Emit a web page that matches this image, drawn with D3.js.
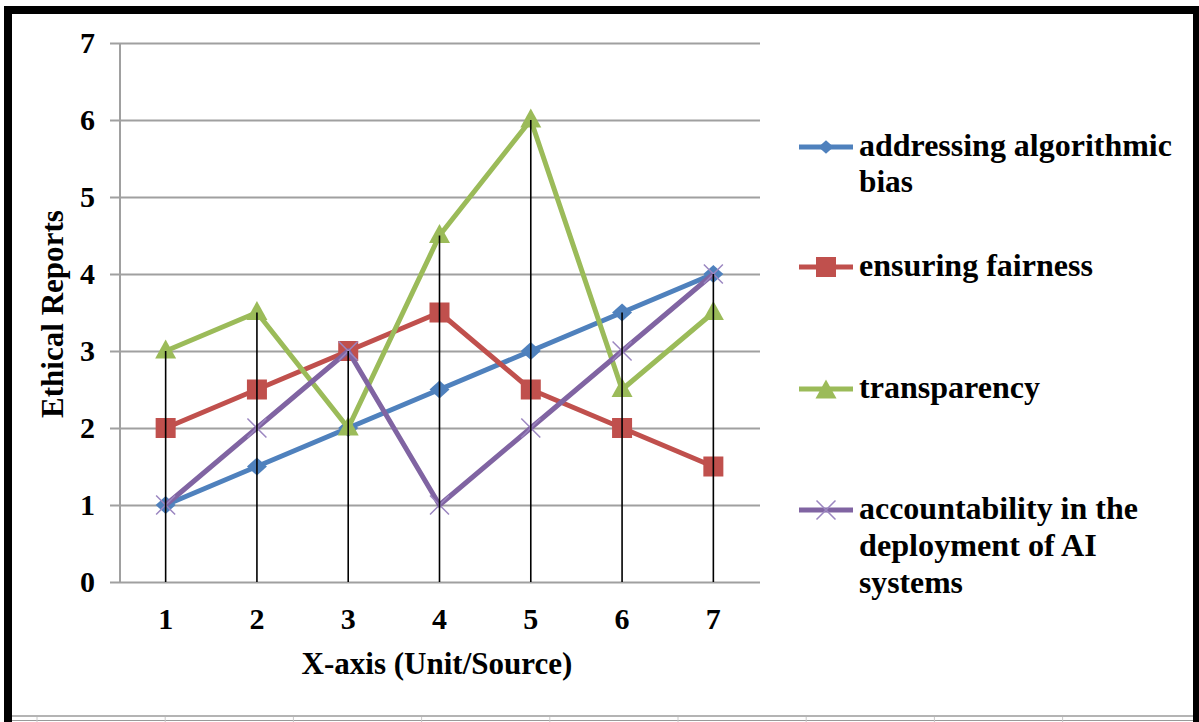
<!DOCTYPE html>
<html><head><meta charset="utf-8">
<script src="https://cdn.jsdelivr.net/npm/d3@7"></script>
<style>
html,body{margin:0;padding:0;background:#fff;}
svg{display:block;}
</style></head>
<body>
<svg id="c" width="1199" height="722"></svg>
<script>
const categories = [1, 2, 3, 4, 5, 6, 7];
const yTicks = [0, 1, 2, 3, 4, 5, 6, 7];
const seriesNames = ["addressing algorithmic bias", "ensuring fairness", "transparency", "accountability in the deployment of AI systems"];
const biasValues = [1, 1.5, 2, 2.5, 3, 3.5, 4];
const fairnessValues = [2, 2.5, 3, 3.5, 2.5, 2, 1.5];
const transparencyValues = [3, 3.5, 2, 4.5, 6, 2.5, 3.5];
const accountabilityValues = [1, 2, 3, 1, 2, 3, 4];
const legendLines = [["addressing algorithmic", "bias"], ["ensuring fairness"], ["transparency"], ["accountability in the", "deployment of AI", "systems"]];
const xTitle = "X-axis (Unit/Source)";
const yTitle = "Ethical Reports";

const colors = ["#4F81BD", "#C0504D", "#9BBB59", "#8064A2"];
const markers = ["diamond", "square", "triangle", "cross"];
const seriesValues = [biasValues, fairnessValues, transparencyValues, accountabilityValues];
const series = seriesNames.map((n, i) => ({name: n, values: seriesValues[i], color: colors[i], marker: markers[i], lines: legendLines[i]}));

const FONT = "'Liberation Serif', 'Times New Roman', Times, serif";
const svg = d3.select("#c");
const L = 120, R = 759, T = 43, B = 582;
const x = d3.scaleBand().domain(categories).range([L, R]);
const xc = c => x(c) + x.bandwidth() / 2;
const y = d3.scaleLinear().domain([0, 7]).range([B, T]);

// put text at (px,py) with anchor, font size fs; if w given, stretch horizontally to width w
function fitText(g, str, px, py, fs, w, anchor, rot) {
  const outer = g.append("g").attr("transform", `translate(${px},${py})` + (rot ? ` rotate(${rot})` : ""));
  const t = outer.append("text").attr("font-family", FONT).attr("font-weight", "bold")
    .attr("font-size", fs).attr("fill", "#000").text(str);
  const natural = t.node().getComputedTextLength();
  const ww = w || natural;
  const sx = ww / natural;
  let ox = 0;
  if (anchor === "middle") ox = -ww / 2; else if (anchor === "end") ox = -ww;
  t.attr("transform", `translate(${ox},0) scale(${sx},1)`);
  return t;
}

// page artifacts at bottom
svg.append("line").attr("x1", 12).attr("x2", 1193).attr("y1", 716).attr("y2", 716).attr("stroke", "#b4b4b4").attr("stroke-width", 2);
svg.append("line").attr("x1", 12).attr("x2", 1193).attr("y1", 720.5).attr("y2", 720.5).attr("stroke", "#9a9a9a").attr("stroke-width", 1);
d3.range(9).forEach(k => {
  const px = 37 + 128.2 * k;
  svg.append("line").attr("x1", px).attr("x2", px).attr("y1", 717).attr("y2", 722).attr("stroke", "#c8c8c8").attr("stroke-width", 1);
});

// frame
svg.append("rect").attr("x", 4).attr("y", 6).attr("width", 8).attr("height", 716).attr("fill", "#000");
svg.append("rect").attr("x", 4).attr("y", 6).attr("width", 1195).attr("height", 8).attr("fill", "#000");
svg.append("rect").attr("x", 1193).attr("y", 6).attr("width", 6).attr("height", 716).attr("fill", "#000");

// gridlines
const grid = svg.append("g").attr("transform", `translate(${R + 1},0)`)
  .call(d3.axisLeft(y).tickValues(yTicks).tickSize(R + 1 - 110).tickFormat(""));
grid.select(".domain").remove();
grid.selectAll("line").attr("stroke", "#a0a0a0").attr("stroke-width", 2);

// y axis line
svg.append("line").attr("x1", L).attr("x2", L).attr("y1", T).attr("y2", B).attr("stroke", "#a0a0a0").attr("stroke-width", 2);

// y tick labels (positions from the scale)
const yl = svg.append("g");
yTicks.forEach(v => fitText(yl, d3.format("d")(v), 95, y(v) + 10, 30, null, "end"));

// x tick labels
const xl = svg.append("g");
x.domain().forEach(c => fitText(xl, String(c), xc(c), 629, 30, null, "middle"));

// titles
fitText(svg, xTitle, 437, 674, 32, 271, "middle");
fitText(svg, yTitle, 63, 314, 31, 208, "middle", -90);

function drawMarker(g, type, color, cx, cy, scale) {
  const k = scale || 1;
  if (type === "diamond") {
    const w = 10 * k, h = 9 * k;
    g.append("path").attr("d", `M${cx},${cy - h}L${cx + w},${cy}L${cx},${cy + h}L${cx - w},${cy}Z`).attr("fill", color);
  } else if (type === "square") {
    const s = 10 * k;
    g.append("rect").attr("x", cx - s).attr("y", cy - s).attr("width", 2 * s).attr("height", 2 * s).attr("fill", color);
  } else if (type === "triangle") {
    const w = 10.5 * k, h = 9.5 * k;
    g.append("path").attr("d", `M${cx},${cy - h - 2}L${cx + w},${cy + h - 2}L${cx - w},${cy + h - 2}Z`).attr("fill", color);
  } else {
    const s = 9.5 * k;
    g.append("path").attr("d", `M${cx - s},${cy - s}L${cx + s},${cy + s}M${cx - s},${cy + s}L${cx + s},${cy - s}`)
      .attr("stroke", "#9b86c0").attr("stroke-width", 1.5).attr("fill", "none");
  }
}

// series: line then its markers, series by series
const line = d3.line().x((d, i) => xc(categories[i])).y(d => y(d));
series.forEach(s => {
  const g = svg.append("g");
  g.append("path").attr("d", line(s.values)).attr("fill", "none").attr("stroke", s.color)
    .attr("stroke-width", 5).attr("stroke-linejoin", "round");
  s.values.forEach((v, i) => drawMarker(g, s.marker, s.color, xc(categories[i]), y(v)));
});

// drop lines (from the highest point to the axis)
categories.forEach((c, i) => {
  const mx = d3.max(seriesValues, vals => vals[i]);
  svg.append("line").attr("x1", xc(c)).attr("x2", xc(c)).attr("y1", y(mx)).attr("y2", y(0))
    .attr("stroke", "#000").attr("stroke-width", 1.6);
});

// legend
const legendBaselines = [[156, 192], [276], [398], [519, 556, 593]];
const legendWidths = [[313, 54], [234], [181], [279, 238, 104]];
const lg = svg.append("g");
series.forEach((s, i) => {
  const b0 = legendBaselines[i][0];
  const my = b0 - 9;
  lg.append("line").attr("x1", 799).attr("x2", 853).attr("y1", my).attr("y2", my).attr("stroke", s.color).attr("stroke-width", 5);
  drawMarker(lg, s.marker, s.color, 826, my + (s.marker === "triangle" ? 2 : 0), s.marker === "diamond" ? 0.75 : 1);
  s.lines.forEach((t, j) => fitText(lg, t, 859, legendBaselines[i][j], 31, legendWidths[i][j], "start"));
});
</script>
</body></html>
